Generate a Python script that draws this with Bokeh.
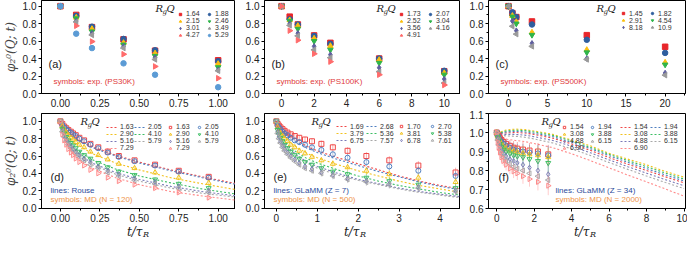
import math
from bokeh.plotting import figure
from bokeh.layouts import row, column
from bokeh.models import Range1d, Label, Legend, LegendItem, FixedTicker, NumeralTickFormatter
from bokeh.embed import file_html
from bokeh.resources import INLINE

FONT = "Liberation Sans"
SERIF = "DejaVu Serif"

# ---------------- data ----------------
a_t = [0, 0.1, 0.2, 0.4, 0.6, 1.0]
a_q = ["1.64", "1.88", "2.15", "2.46", "3.01", "3.49", "4.27", "5.29"]
a_y = [
    [1.0, 0.90, 0.76, 0.62, 0.49, 0.38],
    [1.0, 0.89, 0.765, 0.625, 0.495, 0.37],
    [1.0, 0.87, 0.74, 0.58, 0.46, 0.34],
    [1.0, 0.86, 0.71, 0.56, 0.43, 0.30],
    [1.0, 0.83, 0.69, 0.54, 0.41, 0.27],
    [1.0, 0.82, 0.67, 0.52, 0.39, 0.26],
    [1.0, 0.775, 0.595, 0.45, 0.31, 0.175],
    [1.0, 0.685, 0.52, 0.345, 0.215, 0.072],
]
b_t = [0, 0.5, 1, 2, 3, 6, 10]
b_q = ["1.73", "2.07", "2.52", "3.04", "3.56", "4.16", "4.91"]
b_y = [
    [1.0, 0.88, 0.79, 0.665, 0.58, 0.40, 0.255],
    [1.0, 0.85, 0.79, 0.66, 0.57, 0.40, 0.26],
    [1.0, 0.84, 0.775, 0.63, 0.545, 0.385, 0.235],
    [1.0, 0.83, 0.74, 0.60, 0.50, 0.35, 0.215],
    [1.0, 0.80, 0.69, 0.54, 0.445, 0.295, 0.165],
    [1.0, 0.78, 0.66, 0.50, 0.41, 0.25, 0.12],
    [1.0, 0.72, 0.61, 0.455, 0.365, 0.215, 0.097],
]
c_t = [0, 0.5, 1, 3, 10, 20]
c_q = ["1.45", "1.82", "2.91", "4.54", "8.18", "10.9"]
c_y = [
    [1.0, 0.92, 0.875, 0.825, 0.668, 0.535],
    [1.0, 0.93, 0.875, 0.79, 0.615, 0.465],
    [1.0, 0.89, 0.82, 0.70, 0.50, 0.355],
    [1.0, 0.88, 0.80, 0.67, 0.47, 0.33],
    [1.0, 0.83, 0.72, 0.575, 0.40, 0.235],
    [1.0, 0.77, 0.68, 0.54, 0.39, 0.21],
]
d_line_q = ["1.63", "2.05", "2.90", "4.10", "5.16", "5.79", "7.29"]
d_line_t = [0, 0.02, 0.05, 0.1, 0.2, 0.35, 0.5, 0.7, 0.9, 1.12]
d_line_y = [
    [1.0, 0.93, 0.87, 0.80, 0.71, 0.61, 0.53, 0.44, 0.36, 0.28],
    [1.0, 0.92, 0.86, 0.79, 0.70, 0.60, 0.52, 0.43, 0.35, 0.27],
    [1.0, 0.90, 0.82, 0.74, 0.63, 0.52, 0.44, 0.35, 0.28, 0.21],
    [1.0, 0.87, 0.78, 0.68, 0.56, 0.45, 0.37, 0.29, 0.22, 0.16],
    [1.0, 0.85, 0.75, 0.64, 0.52, 0.41, 0.33, 0.25, 0.19, 0.14],
    [1.0, 0.84, 0.73, 0.62, 0.50, 0.39, 0.31, 0.23, 0.17, 0.125],
    [1.0, 0.81, 0.70, 0.58, 0.46, 0.35, 0.27, 0.19, 0.14, 0.09],
]
d_sym_q = ["1.63", "2.05", "2.90", "4.10", "5.16", "5.79", "7.29"]
d_sym_t = [0, 0.012, 0.024, 0.037, 0.05, 0.066, 0.08, 0.097, 0.12, 0.15, 0.19, 0.24, 0.30, 0.37, 0.47, 0.60, 0.75, 0.94]
d_sym_y = [
    [1.0, 0.97, 0.94, 0.92, 0.90, 0.88, 0.86, 0.84, 0.81, 0.78, 0.74, 0.70, 0.65, 0.60, 0.55, 0.50, 0.43, 0.36],
    [1.0, 0.96, 0.93, 0.91, 0.89, 0.87, 0.85, 0.83, 0.80, 0.77, 0.73, 0.69, 0.64, 0.59, 0.54, 0.49, 0.42, 0.35],
    [1.0, 0.94, 0.90, 0.87, 0.84, 0.81, 0.79, 0.76, 0.73, 0.70, 0.65, 0.61, 0.56, 0.51, 0.46, 0.41, 0.35, 0.29],
    [1.0, 0.91, 0.86, 0.82, 0.78, 0.75, 0.72, 0.69, 0.65, 0.61, 0.57, 0.52, 0.47, 0.42, 0.38, 0.33, 0.28, 0.23],
    [1.0, 0.89, 0.83, 0.79, 0.75, 0.71, 0.68, 0.65, 0.61, 0.57, 0.53, 0.48, 0.43, 0.39, 0.34, 0.30, 0.25, 0.20],
    [1.0, 0.88, 0.82, 0.77, 0.73, 0.69, 0.66, 0.63, 0.59, 0.55, 0.50, 0.46, 0.41, 0.37, 0.32, 0.28, 0.23, 0.18],
    [1.0, 0.85, 0.78, 0.73, 0.68, 0.64, 0.61, 0.57, 0.53, 0.49, 0.44, 0.40, 0.35, 0.31, 0.27, 0.23, 0.18, 0.12],
]
d_err = [0, 0.005, 0.008, 0.01, 0.01, 0.012, 0.012, 0.014, 0.015, 0.016, 0.018, 0.02, 0.022, 0.024, 0.026, 0.028, 0.03, 0.032]
e_line_q = ["1.69", "2.68", "3.79", "5.36", "6.75", "7.57"]
e_line_t = [0, 0.05, 0.15, 0.3, 0.5, 0.75, 1.0, 1.5, 2.0, 2.5, 3.0, 3.5, 4.0, 4.5]
e_line_y = [
    [1.0, 0.95, 0.90, 0.84, 0.78, 0.71, 0.66, 0.58, 0.51, 0.44, 0.37, 0.31, 0.26, 0.22],
    [1.0, 0.94, 0.88, 0.82, 0.76, 0.69, 0.64, 0.56, 0.49, 0.42, 0.36, 0.30, 0.25, 0.21],
    [1.0, 0.92, 0.84, 0.77, 0.70, 0.63, 0.58, 0.50, 0.43, 0.37, 0.31, 0.26, 0.22, 0.18],
    [1.0, 0.89, 0.80, 0.72, 0.64, 0.57, 0.52, 0.44, 0.37, 0.31, 0.26, 0.22, 0.18, 0.15],
    [1.0, 0.87, 0.77, 0.69, 0.61, 0.53, 0.48, 0.40, 0.33, 0.28, 0.23, 0.19, 0.16, 0.13],
    [1.0, 0.86, 0.76, 0.68, 0.59, 0.52, 0.46, 0.38, 0.32, 0.27, 0.22, 0.18, 0.15, 0.12],
]
e_sym_q = ["1.70", "2.70", "3.81", "5.38", "6.78", "7.61"]
e_sym_t = [0, 0.03, 0.06, 0.1, 0.15, 0.2, 0.27, 0.35, 0.45, 0.56, 0.7, 0.87, 1.1, 1.38, 1.74, 2.2, 2.76, 3.47, 4.38]
e_sym_y = [
    [1.0, 0.97, 0.95, 0.93, 0.91, 0.89, 0.87, 0.85, 0.83, 0.81, 0.79, 0.77, 0.74, 0.70, 0.66, 0.60, 0.55, 0.49, 0.41],
    [1.0, 0.95, 0.93, 0.91, 0.88, 0.86, 0.84, 0.81, 0.78, 0.76, 0.73, 0.70, 0.67, 0.62, 0.58, 0.53, 0.48, 0.43, 0.37],
    [1.0, 0.93, 0.89, 0.86, 0.83, 0.80, 0.77, 0.73, 0.70, 0.66, 0.63, 0.59, 0.55, 0.51, 0.47, 0.43, 0.39, 0.35, 0.30],
    [1.0, 0.90, 0.85, 0.81, 0.77, 0.73, 0.69, 0.65, 0.61, 0.57, 0.53, 0.50, 0.46, 0.42, 0.39, 0.35, 0.31, 0.27, 0.23],
    [1.0, 0.88, 0.82, 0.77, 0.72, 0.68, 0.64, 0.60, 0.56, 0.52, 0.48, 0.45, 0.41, 0.38, 0.34, 0.31, 0.28, 0.24, 0.20],
    [1.0, 0.86, 0.80, 0.75, 0.70, 0.66, 0.62, 0.58, 0.54, 0.50, 0.46, 0.43, 0.40, 0.37, 0.33, 0.30, 0.27, 0.23, 0.19],
]
e_err = [0, 0.01, 0.012, 0.015, 0.018, 0.02, 0.022, 0.025, 0.028, 0.03, 0.032, 0.035, 0.038, 0.04, 0.042, 0.045, 0.048, 0.05, 0.055]
f_q = ["1.54", "1.94", "3.08", "3.88", "4.88", "6.15", "6.90"]
f_line_t = [0, 0.25, 0.5, 1.0, 1.5, 2, 3, 4, 5, 6, 7, 8, 9, 10]
f_line_y = [
    [1.0, 0.995, 0.998, 1.0, 0.997, 0.99, 0.97, 0.94, 0.906, 0.868, 0.833, 0.80, 0.767, 0.735],
    [1.0, 0.998, 1.003, 1.006, 1.003, 0.996, 0.978, 0.948, 0.915, 0.878, 0.843, 0.81, 0.777, 0.745],
    [1.0, 1.005, 1.013, 1.018, 1.015, 1.008, 0.99, 0.96, 0.93, 0.89, 0.86, 0.83, 0.795, 0.765],
    [1.0, 1.0, 1.008, 1.012, 1.01, 1.003, 0.985, 0.955, 0.922, 0.885, 0.852, 0.82, 0.787, 0.755],
    [1.0, 0.99, 0.99, 0.99, 0.986, 0.978, 0.958, 0.928, 0.893, 0.856, 0.82, 0.786, 0.752, 0.72],
    [1.0, 0.985, 0.982, 0.98, 0.975, 0.966, 0.945, 0.914, 0.879, 0.842, 0.806, 0.771, 0.737, 0.705],
    [1.0, 0.975, 0.965, 0.958, 0.952, 0.942, 0.92, 0.888, 0.852, 0.814, 0.776, 0.74, 0.703, 0.665],
]
f_sym_t = [0, 0.05, 0.1, 0.17, 0.25, 0.35, 0.5, 0.7, 0.9, 1.1, 1.4, 1.75, 2.2, 2.75]
f_sym_y = [
    [1.0, 0.99, 0.98, 0.97, 0.96, 0.95, 0.94, 0.93, 0.92, 0.915, 0.91, 0.905, 0.90, 0.885],
    [1.0, 0.985, 0.975, 0.96, 0.95, 0.94, 0.93, 0.92, 0.91, 0.905, 0.90, 0.895, 0.89, 0.88],
    [1.0, 0.98, 0.965, 0.95, 0.94, 0.925, 0.915, 0.905, 0.90, 0.895, 0.89, 0.885, 0.88, 0.87],
    [1.0, 0.975, 0.955, 0.94, 0.925, 0.91, 0.90, 0.89, 0.88, 0.875, 0.87, 0.86, 0.85, 0.84],
    [1.0, 0.97, 0.945, 0.925, 0.905, 0.89, 0.875, 0.86, 0.85, 0.84, 0.83, 0.815, 0.80, 0.78],
    [1.0, 0.96, 0.935, 0.91, 0.89, 0.87, 0.85, 0.835, 0.82, 0.81, 0.80, 0.785, 0.77, 0.75],
    [1.0, 0.95, 0.92, 0.895, 0.87, 0.85, 0.83, 0.81, 0.795, 0.785, 0.77, 0.755, 0.74, 0.72],
]
f_err = [0.01, 0.015, 0.02, 0.02, 0.025, 0.025, 0.03, 0.03, 0.035, 0.035, 0.04, 0.04, 0.045, 0.05]

ticks_01 = [0, 0.25, 0.5, 0.75, 1.0]
ticks_b = [0, 2, 4, 6, 8, 10]
ticks_c = [0, 5, 10, 15, 20]
ticks_e = [0, 1, 2, 3, 4]
ticks_f = [0, 2, 4, 6, 8, 10]
ticks_y = [0, 0.2, 0.4, 0.6, 0.8, 1.0]
ticks_yf = [0.6, 0.7, 0.8, 0.9, 1.0, 1.1]

# ---------------- styles ----------------
RED, BLUE, YEL, GRN, PUR, GRY, PNK, LBL = ("#e8262a", "#2e5e9e", "#fbbf0e", "#2fb54a",
                                           "#5f5f9f", "#9a9a9a", "#ff6b6b", "#5b9bd5")
HALF = math.pi / 2
MK = [("square", RED, 0), ("circle", BLUE, 0), ("triangle", YEL, 0), ("inverted_triangle", GRN, 0),
      ("diamond", PUR, 0), ("triangle", GRY, HALF), ("triangle", PNK, -HALF), ("circle", LBL, 0)]
LC = ["#f04848", "#4f7fc0", "#f2c21e", "#3cbf64", "#7a7ab8", "#a8a8a8", "#ff8a8a"]
SMK = [("square", 0), ("circle", 0), ("triangle", 0), ("inverted_triangle", 0),
       ("diamond", 0), ("triangle", HALF), ("triangle", -HALF)]

LB = [35, 29, 28]
FW = [194, 196, 197]
RB = [0, 0, 2]
FL = [8 + LB[0], 8 + LB[0] + FW[0] + RB[0] + LB[1], 8 + LB[0] + FW[0] + RB[0] + LB[1] + FW[1] + RB[1] + LB[2]]
TOTAL_W = sum(LB) + sum(FW) + sum(RB)
TOP_BT, TOP_FH, TOP_BB = 0, 93, 17
BOT_BT, BOT_FH, BOT_BB = 3, 95, 17
STRIP_H = 13
TOP_T = 8 + TOP_BT
BOT_T = 8 + TOP_BT + TOP_FH + TOP_BB + BOT_BT
STRIP_T = BOT_T + BOT_FH + BOT_BB


def make_fig(i, top, xr, yr, xt, xm, yt, ym, xfmt, yfmt):
    bt, fh, bb = (TOP_BT, TOP_FH, TOP_BB) if top else (BOT_BT, BOT_FH, BOT_BB)
    p = figure(frame_width=FW[i], frame_height=fh, x_range=Range1d(*xr), y_range=Range1d(*yr),
               output_backend="svg", toolbar_location=None,
               min_border_left=LB[i], min_border_right=RB[i], min_border_top=bt, min_border_bottom=bb)
    p.xgrid.visible = False
    p.ygrid.visible = False
    p.outline_line_color = "black"
    p.outline_line_width = 1
    p.background_fill_color = "white"
    p.border_fill_color = "white"
    p.xaxis.ticker = FixedTicker(ticks=xt, minor_ticks=xm)
    p.yaxis.ticker = FixedTicker(ticks=yt, minor_ticks=ym)
    p.xaxis.formatter = NumeralTickFormatter(format=xfmt)
    p.yaxis.formatter = NumeralTickFormatter(format=yfmt)
    for ax in (p.xaxis[0], p.yaxis[0]):
        ax.major_tick_in = 0
        ax.major_tick_out = 3
        ax.minor_tick_in = 0
        ax.minor_tick_out = 2
        ax.major_label_text_font = FONT
        ax.major_label_text_font_size = "10px"
        ax.major_label_text_color = "#222222"
        ax.major_label_standoff = 2
        ax.axis_line_color = "black"
    geom = (FL[i], TOP_T if top else BOT_T, FW[i], fh, xr, yr)
    return p, geom


def to_data(g, px, py):
    L, T, W, H, xr, yr = g
    return xr[0] + (px - L) / W * (xr[1] - xr[0]), yr[1] - (py - T) / H * (yr[1] - yr[0])


def txt(p, g, px, py, text, size, color, font=FONT, style="normal", align="left"):
    x, y = to_data(g, px, py)
    p.add_layout(Label(x=x, y=y, text=text, text_font_size=size, text_color=color, text_font=font,
                       text_font_style=style, text_align=align, text_baseline="middle"))


def rgq(p, g, px, py):
    txt(p, g, px, py, "R", "10px", "#222", SERIF, "italic")
    txt(p, g, px + 7, py + 3, "g", "7px", "#222", SERIF, "italic")
    txt(p, g, px + 11, py, "Q", "10px", "#222", SERIF, "italic")


def add_legend(p, g, items, px, py, rows, glyph_w, label_w, standoff=3):
    L, T, W, H, xr, yr = g
    pitch = 7.5
    ordered = items[0::2] + items[1::2]
    leg = Legend(items=ordered, location=(px - L, (T + H) - py - rows * pitch), ncols=2,
                 label_text_font=FONT, label_text_font_size="7px", label_text_color="#333333",
                 glyph_height=6, glyph_width=glyph_w, label_height=6, label_width=label_w,
                 label_standoff=standoff, spacing=0, padding=0, margin=0,
                 border_line_color=None, background_fill_alpha=0)
    p.add_layout(leg)


minor_01 = [0.125, 0.375, 0.625, 0.875]
minor_y = [0.1, 0.3, 0.5, 0.7, 0.9]

# ---------------- top row ----------------
top_specs = [
    (a_t, a_q, a_y, (-0.12, 1.11), ticks_01, minor_01, "0.00", "(a)", "symbols: exp. (PS30K)", 157, 179),
    (b_t, b_q, b_y, (-1.05, 11.0), ticks_b, [1, 3, 5, 7, 9], "0", "(b)", "symbols: exp. (PS100K)", 378, 400),
    (c_t, c_q, c_y, (-2.55, 22.6), ticks_c, [2.5, 7.5, 12.5, 17.5, 22.5], "0", "(c)", "symbols: exp. (PS500K)", 598, 622),
]
tops = []
for i, (ts, qs, ys, xr, xt, xm, xfmt, tag, note, rx, lx) in enumerate(top_specs):
    p, g = make_fig(i, True, xr, (0, 1.065), xt, xm, ticks_y, minor_y, xfmt, "0.0")
    items = []
    for k, (q, yv) in enumerate(zip(qs, ys)):
        m, c, ang = MK[k]
        r = p.scatter(ts, yv, marker=m, size=5.5, fill_color=c, line_color=c, angle=ang)
        items.append(LegendItem(label=q, renderers=[r]))
    add_legend(p, g, items, lx, 16, (len(items) + 1) // 2, 6, 20)
    rgq(p, g, rx, 16)
    txt(p, g, FL[i] + 7, 71, tag, "11px", "#222")
    txt(p, g, FL[i] + 12, 89, note, "8px", "#e03a3a")
    if i == 0:
        p.yaxis.axis_label = "φ₂⁰(Q; t)"
        p.yaxis.axis_label_text_font = SERIF
        p.yaxis.axis_label_text_font_style = "italic"
        p.yaxis.axis_label_text_font_size = "12px"
        p.yaxis.axis_label_standoff = 2
    tops.append(p)

# ---------------- bottom row ----------------
bot_specs = [
    ((-0.12, 1.11), (-0.005, 1.09), ticks_01, minor_01, ticks_y, minor_y, "0.00", "0.0",
     d_line_t, d_line_q, d_line_y, d_sym_t, d_sym_q, d_sym_y, d_err,
     "(d)", "lines: Rouse", "symbols: MD (N = 120)", 82, 108, 169, 12, 14, 20, 150),
    ((-0.29, 4.5), (-0.005, 1.09), ticks_e, [0.5, 1.5, 2.5, 3.5], ticks_y, minor_y, "0", "0.0",
     e_line_t, e_line_q, e_line_y, e_sym_t, e_sym_q, e_sym_y, e_err,
     "(e)", "lines: GLaMM (Z = 7)", "symbols: MD (N = 500)", 313, 338, 400, 12, 16, 22, 367),
    ((-0.44, 10.08), (0.6, 1.1), ticks_f, [1, 3, 5, 7, 9], ticks_yf, [0.65, 0.75, 0.85, 0.95, 1.05], "0", "0.0",
     f_line_t, f_q, f_line_y, f_sym_t, f_q, f_sym_y, f_err,
     "(f)", "lines: GLaMM (Z = 34)", "symbols: MD (N = 2000)", 543, 622, 563, 12, 16, 19, 597),
]
bots = []
title_ends = []
for i, spec in enumerate(bot_specs):
    (xr, yr, xt, xm, yt, ym, xfmt, yfmt, lt, lq, ly, st, sq, sy, err,
     tag, l1, l2, rx, llx, slx, lgw, llw, slw, xend) = spec
    title_ends.append(xend)
    p, g = make_fig(i, False, xr, yr, xt, xm, yt, ym, xfmt, yfmt)
    line_items = []
    for k, (q, yv) in enumerate(zip(lq, ly)):
        r = p.line(lt, yv, line_color=LC[k], line_width=1.1, line_dash="2 2")
        line_items.append(LegendItem(label=q, renderers=[r]))
    sym_items = []
    for k, (q, yv) in enumerate(zip(sq, sy)):
        m, ang = SMK[k]
        lo = [v - e for v, e in zip(yv, err)]
        hi = [v + e for v, e in zip(yv, err)]
        p.segment(st, lo, st, hi, line_color=LC[k], line_alpha=0.55, line_width=0.8)
        r = p.scatter(st, yv, marker=m, size=5, fill_color=None, line_color=LC[k], line_width=1, angle=ang)
        sym_items.append(LegendItem(label=q, renderers=[r]))
    rows = (len(line_items) + 1) // 2
    add_legend(p, g, line_items, llx, 129, rows, lgw, llw, 2)
    add_legend(p, g, sym_items, slx, 129, rows, 6, slw)
    rgq(p, g, rx, 129)
    if i < 2:
        txt(p, g, FL[i] + 9, 184, tag, "11px", "#222")
        txt(p, g, FL[i] + 9, 198, l1, "8px", "#2b4a9a")
        txt(p, g, FL[i] + 9, 207, l2, "8px", "#f0954a")
    else:
        txt(p, g, FL[i] + 10, 184, tag, "11px", "#222")
        txt(p, g, 557, 198, l1, "8px", "#2b4a9a")
        txt(p, g, 557, 207, l2, "8px", "#f0954a")
    if i == 0:
        p.yaxis.axis_label = "φ₂⁰(Q; t)"
        p.yaxis.axis_label_text_font = SERIF
        p.yaxis.axis_label_text_font_style = "italic"
        p.yaxis.axis_label_text_font_size = "12px"
        p.yaxis.axis_label_standoff = 2
    bots.append(p)

# ---------------- strip holding the x-axis titles of the bottom row ----------------
strip = figure(frame_width=TOTAL_W, frame_height=STRIP_H, x_range=Range1d(8, 8 + TOTAL_W),
               y_range=Range1d(STRIP_T + STRIP_H, STRIP_T), output_backend="svg", toolbar_location=None,
               x_axis_location=None, y_axis_location=None,
               min_border_left=0, min_border_right=0, min_border_top=0, min_border_bottom=0)
strip.xgrid.visible = False
strip.ygrid.visible = False
strip.outline_line_color = None
strip.background_fill_color = "white"
strip.border_fill_color = "white"
for xe in title_ends:
    strip.add_layout(Label(x=xe, y=STRIP_T + 6, text="t/τ", text_font=SERIF, text_font_style="italic",
                           text_font_size="12px", text_align="right", text_baseline="middle", text_color="#222"))
    strip.add_layout(Label(x=xe + 0.5, y=STRIP_T + 9, text="R", text_font=SERIF, text_font_style="italic",
                           text_font_size="8px", text_align="left", text_baseline="middle", text_color="#222"))

layout = column(row(*tops, spacing=0), row(*bots, spacing=0), strip, spacing=0)
open("out.html", "w").write(file_html(layout, INLINE))
